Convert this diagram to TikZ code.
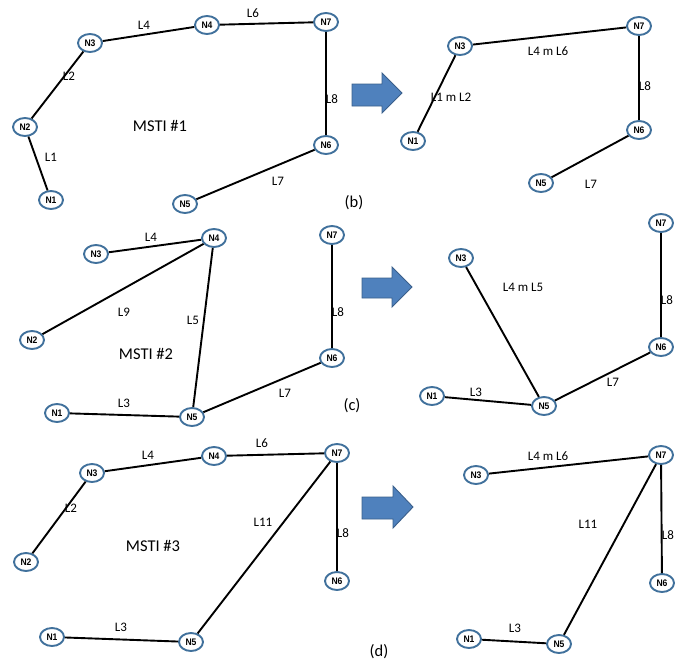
\documentclass[tikz,border=0pt]{standalone}
\usepackage{fontspec}
\setmainfont{Carlito}
\newfontfamily\lbfont{Carlito}
\newfontfamily\nodefont[FakeStretch=0.9]{Liberation Sans}
\usetikzlibrary{shapes.geometric}
\definecolor{ndblue}{HTML}{41719C}
\definecolor{arrfill}{HTML}{4F81BD}
\definecolor{arrline}{HTML}{3A5F8B}
\tikzset{
  nd/.style={ellipse, draw=ndblue, line width=1.9pt, fill=white,
    minimum width=24pt, minimum height=18pt, inner sep=0pt,
    font=\nodefont\bfseries\fontsize{9.5}{9.5}\selectfont},
  lk/.style={line width=1.9pt, black},
  lb/.style={font=\lbfont\fontsize{13}{13}\selectfont, inner sep=0pt},
  ttl/.style={font=\lbfont\fontsize{16.5}{16.5}\selectfont, inner sep=0pt},
  arr/.style={fill=arrfill, draw=arrline, line width=0.9pt}
}
\begin{document}
\begin{tikzpicture}[x=1pt,y=-1pt]
\useasboundingbox (0,0) rectangle (690,669);
% ---------- (b) left
\node[nd] (b3) at (90,43) {N3};
\node[nd] (b4) at (207,25) {N4};
\node[nd] (b7) at (326,22) {N7};
\node[nd] (b2) at (25,127) {N2};
\node[nd] (b1) at (51,200) {N1};
\node[nd] (b5) at (185,204) {N5};
\node[nd] (b6) at (326,145) {N6};
\draw[lk] (b1) -- (b2);
\draw[lk] (b2) -- (b3);
\draw[lk] (b3) -- (b4);
\draw[lk] (b4) -- (b7);
\draw[lk] (b7) -- (b6);
\draw[lk] (b6) -- (b5);
\node[lb] (bl4) at (144,25) {L4};
\node[lb] (bl6) at (253,13) {L6};
\node[lb] (bl2) at (69,76) {L2};
\node[lb] (bl8) at (332,99) {L8};
\node[lb] (bl1) at (51,157) {L1};
\node[lb] (bl7) at (278,181) {L7};
\node[ttl] (bt) at (160,126) {MSTI \#1};
\node[ttl] (bc) at (354,203) {(b)};
% ---------- (b) right
\node[nd] (r3) at (460,46) {N3};
\node[nd] (r7) at (639,26) {N7};
\node[nd] (r1) at (413,141) {N1};
\node[nd] (r6) at (639,130) {N6};
\node[nd] (r5) at (541,183) {N5};
\draw[lk] (r1) -- (r3);
\draw[lk] (r3) -- (r7);
\draw[lk] (r7) -- (r6);
\draw[lk] (r6) -- (r5);
\node[lb] (rl46) at (548,51) {L4 m L6};
\node[lb] (rl12) at (451,97) {L1 m L2};
\node[lb] (rl8) at (645,86) {L8};
\node[lb] (rl7) at (591,184) {L7};
\draw[arr] (352,84) -- (382,84) -- (382,73) -- (402,93) -- (382,113) -- (382,106) -- (352,106) -- cycle;
% ---------- (c) left
\node[nd] (c3) at (96,254) {N3};
\node[nd] (c4) at (214,238) {N4};
\node[nd] (c7) at (332,235) {N7};
\node[nd] (c2) at (32,340) {N2};
\node[nd] (c6) at (332,358) {N6};
\node[nd] (c1) at (57,413) {N1};
\node[nd] (c5) at (192,417) {N5};
\draw[lk] (c3) -- (c4);
\draw[lk] (c4) -- (c2);
\draw[lk] (c4) -- (c5);
\draw[lk] (c1) -- (c5);
\draw[lk] (c5) -- (c6);
\draw[lk] (c6) -- (c7);
\node[lb] (cl4) at (151,237) {L4};
\node[lb] (cl9) at (124,312) {L9};
\node[lb] (cl5) at (193,320) {L5};
\node[lb] (cl8) at (338,312) {L8};
\node[lb] (cl3) at (124,403) {L3};
\node[lb] (cl7) at (285,393) {L7};
\node[ttl] (ct) at (146,354) {MSTI \#2};
\node[ttl] (cc) at (352,406) {(c)};
% ---------- (c) right
\node[nd] (s7) at (661,223) {N7};
\node[nd] (s3) at (461,258) {N3};
\node[nd] (s6) at (661,347) {N6};
\node[nd] (s1) at (432,396) {N1};
\node[nd] (s5) at (544,406) {N5};
\draw[lk] (s3) -- (s5);
\draw[lk] (s1) -- (s5);
\draw[lk] (s5) -- (s6);
\draw[lk] (s6) -- (s7);
\node[lb] (sl45) at (523,287) {L4 m L5};
\node[lb] (sl8) at (667,300) {L8};
\node[lb] (sl3) at (476,392) {L3};
\node[lb] (sl7) at (613,382) {L7};
\draw[arr] (362,278) -- (392,278) -- (392,267) -- (412,287) -- (392,307) -- (392,298) -- (362,298) -- cycle;
% ---------- (d) left
\node[nd] (d3) at (92,473) {N3};
\node[nd] (d4) at (214,456) {N4};
\node[nd] (d7) at (337,453) {N7};
\node[nd] (d2) at (26,562) {N2};
\node[nd] (d6) at (337,581) {N6};
\node[nd] (d1) at (52,637) {N1};
\node[nd] (d5) at (191,642) {N5};
\draw[lk] (d2) -- (d3);
\draw[lk] (d3) -- (d4);
\draw[lk] (d4) -- (d7);
\draw[lk] (d7) -- (d6);
\draw[lk] (d7) -- (d5);
\draw[lk] (d1) -- (d5);
\node[lb] (dl4) at (148,455) {L4};
\node[lb] (dl6) at (262,443) {L6};
\node[lb] (dl2) at (71,508) {L2};
\node[lb] (dl11) at (263,522) {L11};
\node[lb] (dl8) at (343,533) {L8};
\node[lb] (dl3) at (121,627) {L3};
\node[ttl] (dt) at (153,546) {MSTI \#3};
% ---------- (d) right
\node[nd] (t3) at (476,475) {N3};
\node[nd] (t7) at (661,455) {N7};
\node[nd] (t6) at (662,583) {N6};
\node[nd] (t1) at (469,639) {N1};
\node[nd] (t5) at (559,644) {N5};
\draw[lk] (t3) -- (t7);
\draw[lk] (t7) -- (t6);
\draw[lk] (t7) -- (t5);
\draw[lk] (t1) -- (t5);
\node[lb] (tl46) at (548,456) {L4 m L6};
\node[lb] (tl11) at (588,524) {L11};
\node[lb] (tl8) at (668,535) {L8};
\node[lb] (tl3) at (515,628) {L3};
\node[ttl] (dc) at (379,652) {(d)};
\draw[arr] (362,497) -- (393,497) -- (393,486) -- (413,507) -- (393,528) -- (393,519) -- (362,519) -- cycle;
\end{tikzpicture}
\end{document}
